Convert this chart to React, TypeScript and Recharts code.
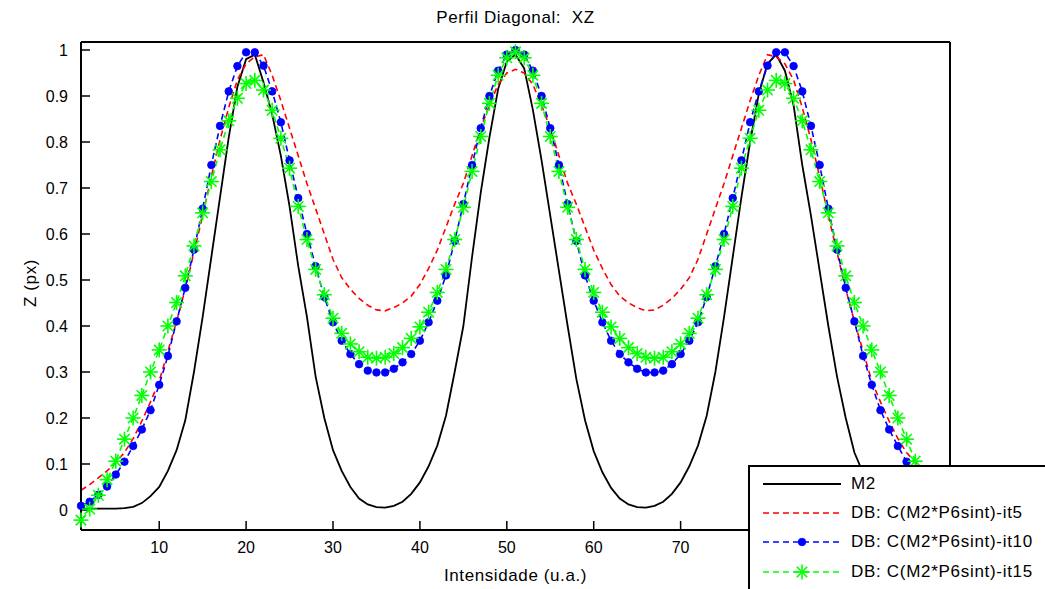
import { LineChart, Line, XAxis, YAxis, Legend } from 'recharts'

// Perfil Diagonal XZ (x = 1..101)
const M2 = [
  0.003, 0.003, 0.003, 0.003, 0.003, 0.004, 0.007, 0.015, 0.03, 0.05,
  0.085, 0.13, 0.195, 0.3, 0.42, 0.55, 0.68, 0.81, 0.92, 0.98,
  0.99, 0.93, 0.86, 0.77, 0.66, 0.53, 0.42, 0.29, 0.2, 0.13,
  0.085, 0.05, 0.025, 0.012, 0.006, 0.005, 0.009, 0.018, 0.035, 0.06,
  0.095, 0.14, 0.205, 0.3, 0.4, 0.55, 0.69, 0.81, 0.915, 0.975,
  0.99, 0.96, 0.87, 0.76, 0.64, 0.52, 0.4, 0.285, 0.195, 0.128,
  0.082, 0.048, 0.025, 0.012, 0.006, 0.005, 0.009, 0.018, 0.035, 0.06,
  0.095, 0.14, 0.205, 0.3, 0.42, 0.55, 0.68, 0.8, 0.905, 0.97,
  0.99, 0.955, 0.88, 0.75, 0.64, 0.52, 0.4, 0.29, 0.2, 0.125,
  0.08, 0.045, 0.022, 0.01, 0.005, 0.003, 0.003, 0.003, 0.003, 0.003,
  0.003,
]

const IT5 = [
  0.043, 0.055, 0.07, 0.085, 0.103, 0.125, 0.155, 0.193, 0.235, 0.28,
  0.345, 0.41, 0.48, 0.56, 0.64, 0.725, 0.805, 0.875, 0.935, 0.97,
  0.985, 0.99, 0.945, 0.89, 0.83, 0.77, 0.71, 0.655, 0.6, 0.545,
  0.505, 0.48, 0.46, 0.445, 0.435, 0.433, 0.44, 0.45, 0.465, 0.49,
  0.525, 0.565, 0.615, 0.665, 0.71, 0.77, 0.83, 0.88, 0.925, 0.95,
  0.958, 0.95, 0.925, 0.88, 0.83, 0.77, 0.71, 0.665, 0.615, 0.565,
  0.525, 0.49, 0.465, 0.45, 0.44, 0.433, 0.435, 0.445, 0.46, 0.48,
  0.505, 0.545, 0.6, 0.655, 0.71, 0.77, 0.83, 0.89, 0.945, 0.99,
  0.985, 0.97, 0.935, 0.875, 0.805, 0.725, 0.64, 0.56, 0.48, 0.41,
  0.345, 0.28, 0.235, 0.193, 0.155, 0.125, 0.103, 0.085, 0.07, 0.055,
  0.043,
]

const IT10 = [
  0.009, 0.018, 0.033, 0.051, 0.077, 0.105, 0.139, 0.175, 0.217, 0.272,
  0.335, 0.41, 0.483, 0.566, 0.655, 0.75, 0.835, 0.91, 0.965, 0.995,
  0.995, 0.966, 0.91, 0.843, 0.76, 0.678, 0.6, 0.53, 0.463, 0.408,
  0.368, 0.339, 0.317, 0.303, 0.299, 0.299, 0.307, 0.321, 0.339, 0.368,
  0.408, 0.455, 0.51, 0.585, 0.665, 0.75, 0.83, 0.9, 0.955, 0.99,
  1.0, 0.99, 0.955, 0.9, 0.83, 0.75, 0.665, 0.585, 0.51, 0.455,
  0.408, 0.368, 0.339, 0.321, 0.307, 0.299, 0.299, 0.303, 0.317, 0.339,
  0.368, 0.408, 0.463, 0.53, 0.6, 0.678, 0.76, 0.843, 0.91, 0.966,
  0.995, 0.995, 0.965, 0.91, 0.835, 0.75, 0.655, 0.566, 0.483, 0.41,
  0.335, 0.272, 0.217, 0.175, 0.139, 0.105, 0.077, 0.051, 0.033, 0.018,
  0.009,
]

const IT15 = [
  -0.022, 0.002, 0.032, 0.066, 0.106, 0.154, 0.2, 0.249, 0.3, 0.348,
  0.4, 0.451, 0.509, 0.574, 0.646, 0.714, 0.783, 0.846, 0.895, 0.927,
  0.934, 0.913, 0.869, 0.808, 0.743, 0.66, 0.588, 0.523, 0.468, 0.417,
  0.384, 0.361, 0.344, 0.332, 0.33, 0.332, 0.34, 0.353, 0.373, 0.398,
  0.43, 0.473, 0.523, 0.588, 0.658, 0.736, 0.812, 0.884, 0.945, 0.983,
  0.996, 0.983, 0.945, 0.884, 0.812, 0.736, 0.658, 0.588, 0.523, 0.473,
  0.43, 0.398, 0.373, 0.353, 0.34, 0.332, 0.33, 0.332, 0.344, 0.361,
  0.384, 0.417, 0.468, 0.523, 0.588, 0.66, 0.743, 0.808, 0.869, 0.913,
  0.934, 0.927, 0.895, 0.846, 0.783, 0.714, 0.646, 0.574, 0.509, 0.451,
  0.4, 0.348, 0.3, 0.249, 0.2, 0.154, 0.106, 0.066, 0.032, 0.002,
  -0.022,
]

const X_TICKS = [10, 20, 30, 40, 50, 60, 70, 80, 90]
const Y_TICKS = [0, 0.1, 0.2, 0.3, 0.4, 0.5, 0.6, 0.7, 0.8, 0.9, 1]
// tick labels that sit under the legend box in the reference
const X_HIDDEN = [80, 90]

const FONT = '"Liberation Sans", Arial, Helvetica, sans-serif'

const SERIES = [
  { key: 'm2', name: 'M2', color: '#000000', dash: undefined, marker: 'none', width: 1.8 },
  { key: 'it5', name: 'DB: C(M2*P6sint)-it5', color: '#ff0000', dash: '6 4', marker: 'none', width: 1.6 },
  { key: 'it10', name: 'DB: C(M2*P6sint)-it10', color: '#0000ff', dash: '6 4', marker: 'dot', width: 1.6 },
  { key: 'it15', name: 'DB: C(M2*P6sint)-it15', color: '#00ff00', dash: '6 4', marker: 'star', width: 1.6 },
]

const data = M2.map((v, i) => ({ x: i + 1, m2: v, it5: IT5[i], it10: IT10[i], it15: IT15[i] }))

function Marker({ kind, cx, cy, color }: { kind: string; cx: number; cy: number; color: string }) {
  if (kind === 'dot') return <circle cx={cx} cy={cy} r={3.8} fill={color} stroke={color} strokeWidth={0.8} />
  if (kind === 'star') {
    const a = 7.5, d = 5.2
    return (
      <g stroke={color} strokeWidth={1.6}>
        <line x1={cx - a} y1={cy} x2={cx + a} y2={cy} />
        <line x1={cx} y1={cy - a} x2={cx} y2={cy + a} />
        <line x1={cx - d} y1={cy - d} x2={cx + d} y2={cy + d} />
        <line x1={cx - d} y1={cy + d} x2={cx + d} y2={cy - d} />
      </g>
    )
  }
  return null
}

function LegendBox() {
  return (
    <div style={{ width: 297, height: 124, boxSizing: 'border-box', background: '#fff', borderLeft: '2px solid #000', borderTop: '2px solid #000', paddingTop: 2, fontFamily: FONT }}>
      {SERIES.map(s => (
        <div key={s.key} style={{ display: 'flex', alignItems: 'center', height: 29.3 }}>
          <svg width={78} height={20} style={{ marginLeft: 13 }}>
            <line x1={0} y1={10} x2={78} y2={10} stroke={s.color} strokeWidth={s.width} strokeDasharray={s.dash} />
            <Marker kind={s.marker} cx={39} cy={10} color={s.color} />
          </svg>
          <span style={{ marginLeft: 10, fontSize: 17, letterSpacing: 0.7, color: '#000', whiteSpace: 'nowrap' }}>{s.name}</span>
        </div>
      ))}
    </div>
  )
}

const axisLine = { stroke: '#000', strokeWidth: 2 }
const tickLine = { stroke: '#000', strokeWidth: 1.5 }
const tickStyle = { fill: '#000', fontSize: 16, fontFamily: FONT }

export default function App() {
  return (
    <div style={{ position: 'relative', width: 1045, height: 589, background: '#fff' }}>
      <style>{'body{margin:0;overflow:hidden;background:#fff}'}</style>
      <LineChart width={1045} height={589} data={data} margin={{ top: 41, right: 94, bottom: 0, left: 0 }}>
        <XAxis xAxisId="b" dataKey="x" type="number" domain={[1, 101]} ticks={X_TICKS} interval={0} height={59}
          tickSize={-9} tickMargin={21} axisLine={axisLine} tickLine={tickLine} tick={tickStyle}
          tickFormatter={(v: number) => (X_HIDDEN.includes(v) ? '' : String(v))} />
        <XAxis xAxisId="t" dataKey="x" type="number" orientation="top" domain={[1, 101]} ticks={X_TICKS} interval={0} height={1}
          tickSize={-9} axisLine={axisLine} tickLine={tickLine} tick={false} />
        <YAxis yAxisId="l" type="number" domain={[-0.0435, 1.0174]} ticks={Y_TICKS} interval={0} width={81}
          tickSize={-9} tickMargin={22} axisLine={axisLine} tickLine={tickLine} tick={tickStyle}
          tickFormatter={(v: number) => String(v)} />
        <YAxis yAxisId="r" type="number" orientation="right" domain={[-0.0435, 1.0174]} ticks={Y_TICKS} interval={0} width={1}
          tickSize={-9} axisLine={axisLine} tickLine={tickLine} tick={false} />
        {SERIES.map(s => (
          <Line key={s.key} xAxisId="b" yAxisId="l" type="linear" dataKey={s.key} name={s.name}
            stroke={s.color} strokeWidth={s.width} strokeDasharray={s.dash} isAnimationActive={false}
            dot={s.marker === 'none' ? false : (p: any) => <Marker key={p.index} kind={s.marker} cx={p.cx} cy={p.cy} color={s.color} />}
            activeDot={false} />
        ))}
        <Legend layout="vertical" align="center" verticalAlign="middle" content={() => <LegendBox />}
          wrapperStyle={{ left: 748, top: 465, width: 297, height: 124 }} />
      </LineChart>
      <div style={{ position: 'absolute', left: 81, width: 869, top: 8, textAlign: 'center', fontFamily: FONT, fontSize: 17, letterSpacing: 0.6, lineHeight: '20px', color: '#000' }}>
        Perfil Diagonal:&nbsp; XZ
      </div>
      <div style={{ position: 'absolute', left: 81, width: 869, top: 566, textAlign: 'center', fontFamily: FONT, fontSize: 17, letterSpacing: 0.6, lineHeight: '20px', color: '#000' }}>
        Intensidade (u.a.)
      </div>
      <div style={{ position: 'absolute', left: 31, top: 283, transform: 'translate(-50%, -50%) rotate(-90deg)', fontFamily: FONT, fontSize: 17, letterSpacing: 0.6, lineHeight: '20px', whiteSpace: 'nowrap', color: '#000' }}>
        Z (px)
      </div>
    </div>
  )
}
